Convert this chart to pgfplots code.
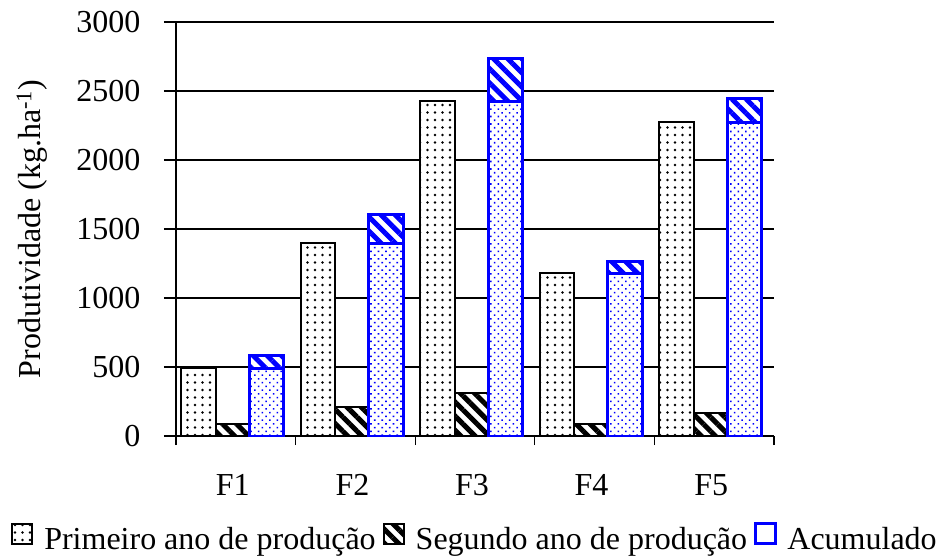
\documentclass[border=0pt]{standalone}
\usepackage{fontspec}
\setmainfont{Liberation Serif}
\usepackage{pgfplots}
\pgfplotsset{compat=1.18}
\usepackage{pgfplotstable}
\usetikzlibrary{patterns.meta}

\newcommand\fsz{\fontsize{32}{36}\selectfont}

% yield (kg/ha): first year, second year, accumulated
\pgfplotstableread{
x  prim  seg  acum
1  492   88   580
2  1395  212  1607
3  2425  310  2735
4  1180  88   1268
5  2275  170  2445
}\producao

\pgfplotsset{
  sqlegend/.style={/pgfplots/legend image code/.code={%
    \draw[##1] (0pt,-4pt) rectangle (20pt,16pt);
    \pgfpathrectangle{\pgfqpoint{-1pt}{0pt}}{\pgfqpoint{31pt}{1pt}}\pgfusepath{}}},
}
\tikzset{
  prim/.style={draw=black, line width=2pt, preaction={fill=white},
    pattern={Dots[distance=7.5pt, radius=1.3pt]}, pattern color=black},
  seg/.style={draw=black, line width=2pt, preaction={fill=white},
    pattern={Lines[angle=-45, distance=10pt, line width=5pt]}, pattern color=black},
  acumtop/.style={draw=blue, line width=3pt, preaction={fill=white},
    pattern={Lines[angle=-45, distance=10pt, line width=5pt]}, pattern color=blue},
  acumbase/.style={draw=blue, line width=3pt, preaction={fill=white},
    pattern={Dots[angle=45, distance=5.3pt, radius=1.1pt]}, pattern color=blue},
}

\begin{document}
\begin{tikzpicture}
\begin{axis}[
  scale only axis, width=598pt, height=414pt,
  xmin=0.5, xmax=5.5, ymin=0, ymax=3000,
  axis x line=bottom, axis y line=left,
  axis line style={-, line width=1.3pt},
  tick align=outside,
  xtick={1,2,3,4,5}, xticklabels={F1,F2,F3,F4,F5},
  major x tick style={draw=none},
  minor xtick={0.5,1.5,2.5,3.5,4.5,5.5},
  minor tick length=9pt,
  major tick length=12pt,
  every tick/.style={black, line width=1.3pt},
  ytick={0,500,...,3000},
  scaled y ticks=false,
  ymajorgrids, major grid style={black, line width=1.2pt},
  tick label style={font=\fsz, /pgf/number format/assume math mode=true},
  yticklabel style={/pgf/number format/1000 sep={}, xshift=-20pt},
  xticklabel style={yshift=-23pt, xshift=-3pt},
  ylabel={Produtividade (kg.ha\textsuperscript{-1})},
  label style={font=\fsz},
  ylabel style={at={(axis description cs:-0.241,0.5)}, anchor=center},
  legend columns=3,
  legend style={draw=none, fill=none, font=\fsz, at={(0.5,-0.208)}, anchor=north,
    inner sep=0pt, /tikz/every even column/.append style={column sep=5pt}},
  legend cell align=left,
  bar width=34.5pt,
]
\addplot[ybar, bar shift=-37.5pt, prim, sqlegend] table[x=x, y=prim] {\producao};
\addlegendentry{Primeiro ano de produção}
\addplot[ybar, bar shift=-3pt, seg, sqlegend] table[x=x, y=seg] {\producao};
\addlegendentry{Segundo ano de produção}
\addplot[ybar, bar shift=30.5pt, acumtop, forget plot] table[x=x, y=acum] {\producao};
\addplot[ybar, bar shift=30.5pt, acumbase, forget plot] table[x=x, y=prim] {\producao};
\addlegendimage{sqlegend, draw=blue, line width=2.5pt, fill=white}
\addlegendentry{Acumulado}
\coordinate (sw) at (rel axis cs:0,0);
\end{axis}
\pgfresetboundingbox
\path[use as bounding box] ([shift={(-176pt,-119pt)}]sw) rectangle ([shift={(765pt,436pt)}]sw);
\end{tikzpicture}
\end{document}
